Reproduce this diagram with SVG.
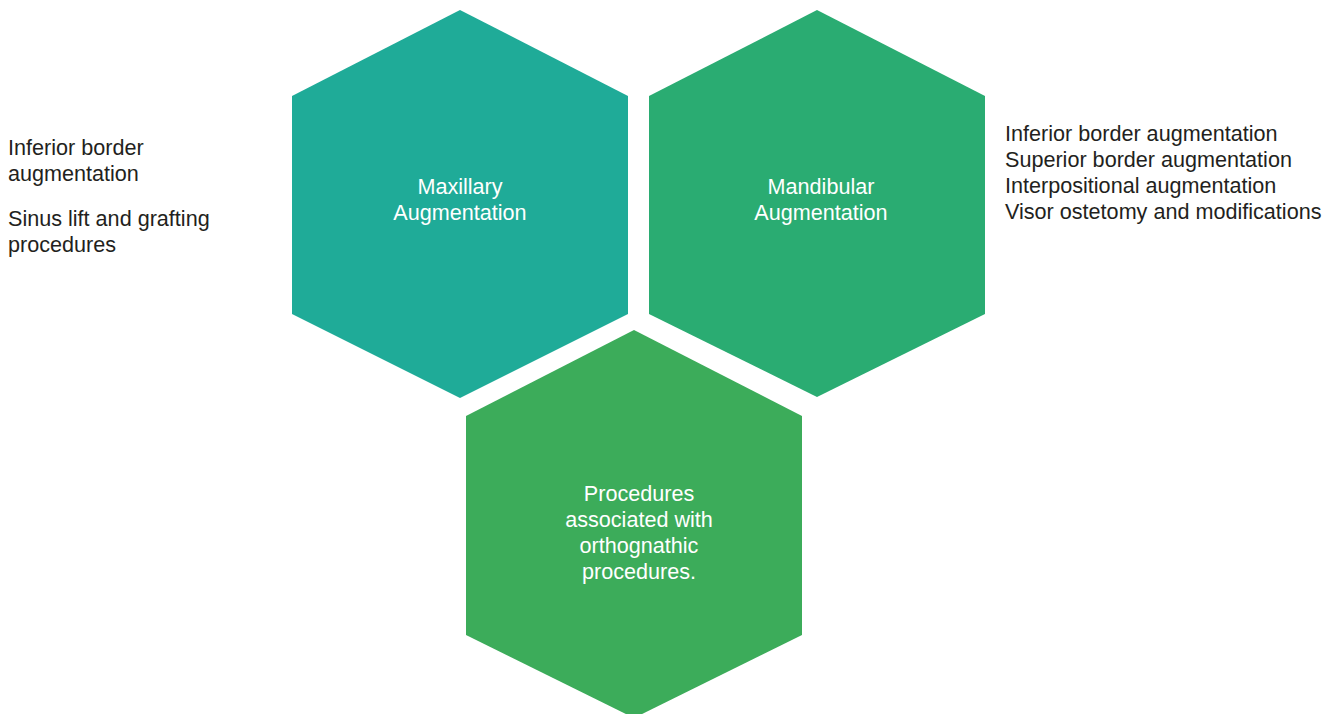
<svg xmlns="http://www.w3.org/2000/svg" width="1337" height="714" viewBox="0 0 1337 714">
<style>
.lbl{font-family:"Liberation Sans",Arial,sans-serif;font-size:21.6px;fill:#ffffff;text-anchor:middle}
.side{font-family:"Liberation Sans",Arial,sans-serif;font-size:21.6px;fill:#231f20}
</style>
<rect width="1337" height="714" fill="#ffffff"/>
<g id="maxillary">
<polygon points="460,10 628,96 628,314 460,398 292,314 292,96" fill="#1fab98"/>
<text class="lbl" x="460" y="194">Maxillary</text>
<text class="lbl" x="460" y="220">Augmentation</text>
</g>
<g id="mandibular">
<polygon points="817,10 985,96 985,314 817,397 649,314 649,96" fill="#2aac72"/>
<text class="lbl" x="821" y="194">Mandibular</text>
<text class="lbl" x="821" y="220">Augmentation</text>
</g>
<g id="orthognathic">
<polygon points="634,330 802,416 802,635 634,718 466,635 466,416" fill="#3cac5a"/>
<text class="lbl" x="639" y="501">Procedures</text>
<text class="lbl" x="639" y="527">associated with</text>
<text class="lbl" x="639" y="553">orthognathic</text>
<text class="lbl" x="639" y="579">procedures.</text>
</g>
<g id="maxillary-notes">
<text class="side" x="8" y="155">Inferior border</text>
<text class="side" x="8" y="181">augmentation</text>
<text class="side" x="8" y="226">Sinus lift and grafting</text>
<text class="side" x="8" y="252">procedures</text>
</g>
<g id="mandibular-notes">
<text class="side" x="1005" y="141">Inferior border augmentation</text>
<text class="side" x="1005" y="167">Superior border augmentation</text>
<text class="side" x="1005" y="193">Interpositional augmentation</text>
<text class="side" x="1005" y="219">Visor ostetomy and modifications</text>
</g>
<g id="connectors"></g>
</svg>
